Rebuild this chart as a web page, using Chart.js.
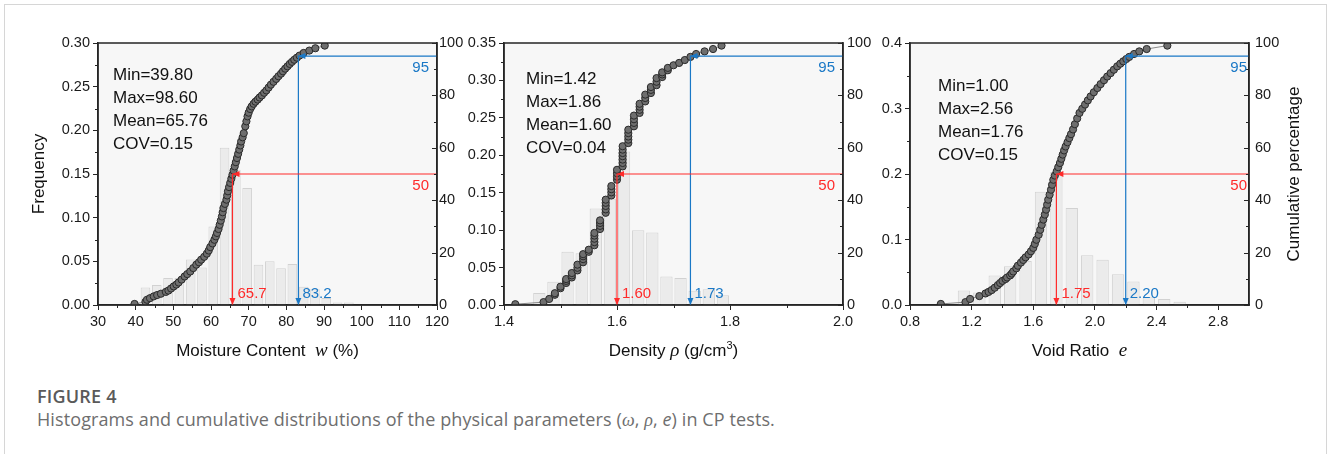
<!DOCTYPE html>
<html>
<head>
<meta charset="utf-8">
<script src="https://cdn.jsdelivr.net/npm/chart.js@4.4.1/dist/chart.umd.min.js"></script>
<style>
  body { margin:0; background:#fff; width:1328px; height:454px; overflow:hidden; position:relative; }
  .card { position:absolute; left:4px; top:4px; width:1323px; height:520px; border:1px solid #d6d6d6; box-sizing:border-box; }
  canvas.panel { position:absolute; left:0; top:0; }
  .cap-head { position:absolute; left:37px; top:384px; font:600 18px 'Open Sans', sans-serif; color:#5a5a5a; letter-spacing:0.2px; }
  .cap-text { position:absolute; left:37px; top:407px; font:18px 'Open Sans', sans-serif; color:#6e6e6e; letter-spacing:0.1px; }
</style>
</head>
<body>
<div class="card"></div>
<canvas id="pW" class="panel" width="1328" height="380"></canvas>
<canvas id="pRho" class="panel" width="1328" height="380"></canvas>
<canvas id="pE" class="panel" width="1328" height="380"></canvas>
<div class="cap-head">FIGURE 4</div>
<div class="cap-text">Histograms and cumulative distributions of the physical parameters (<i style="font-family:'Liberation Serif',serif">ω</i>, <i style="font-family:'Liberation Serif',serif">ρ</i>, <i>e</i>) in CP tests.</div>

<script>
// ---- shared ticks ----
const pctTicks = [0, 20, 40, 60, 80, 100];

// ---- moisture content w (%) ----
const wCenters = [39.6, 42.6, 45.6, 48.6, 51.6, 54.6, 57.6, 60.6, 63.6, 66.6, 69.6, 72.6, 75.6, 78.6, 81.6, 84.6, 87.6, 90.6, 93.6, 96.6];
const wFreq    = [0.002, 0.020, 0.023, 0.031, 0.031, 0.052, 0.043, 0.090, 0.180, 0.155, 0.134, 0.046, 0.050, 0.042, 0.047, 0.021, 0.018, 0.008, 0.003, 0.003];
const wCum = [
  [39.7,0.4],[42.6,1.2],[43.0,2.0],[43.8,2.6],[44.8,3.3],[45.7,3.8],[46.7,4.3],[48.0,5.0],[48.7,5.5],[49.4,6.3],
  [50.1,7.1],[50.8,7.8],[51.4,8.6],[52.2,9.7],[53.0,10.9],[53.7,11.8],[54.5,12.8],[55.3,14.1],[56.1,15.4],[56.8,16.3],
  [57.4,17.3],[58.2,18.4],[58.9,19.6],[59.4,20.8],[59.8,22.1],[60.4,23.5],[60.9,24.9],[61.3,26.2],[61.6,27.5],[62.0,29.0],
  [62.3,30.6],[62.6,32.2],[62.9,33.8],[63.1,35.4],[63.3,37.0],[63.7,38.6],[64.1,40.2],[64.3,41.8],[64.5,43.4],[64.8,45.0],
  [65.1,46.6],[65.4,48.2],[65.7,49.7],[66.0,51.3],[66.3,52.9],[66.6,54.5],[66.9,56.1],[67.2,57.7],[67.5,59.3],[67.8,60.9],
  [68.0,62.4],[68.4,64.0],[68.7,65.6],[69.1,68.2],[69.4,70.1],[69.7,72.0],[70.0,73.4],[70.4,74.8],[70.8,75.8],[71.3,76.8],
  [71.8,77.6],[72.4,78.4],[72.9,79.2],[73.5,80.0],[74.1,81.0],[74.7,81.9],[75.3,83.0],[75.9,84.1],[76.6,85.2],[77.3,86.3],
  [77.9,87.3],[78.6,88.3],[79.1,89.2],[79.7,90.2],[80.3,91.1],[80.9,92.0],[81.5,92.8],[82.1,93.6],[82.8,94.4],[83.5,95.2],
  [84.6,96.2],[86.1,97.1],[87.7,98.0],[90.2,99.0]
];
const wXTicks = [30, 40, 50, 60, 70, 80, 90, 100, 110, 120];
const wYTicks = [0, 0.05, 0.10, 0.15, 0.20, 0.25, 0.30];
const wStats  = ['Min=39.80', 'Max=98.60', 'Mean=65.76', 'COV=0.15'];
const wMarks  = [65.7, 83.2];   // value at 50 % and 95 %

// ---- density rho (g/cm3) ----
const rhoCenters = [1.4375, 1.4625, 1.4875, 1.5125, 1.5375, 1.5625, 1.5875, 1.6125, 1.6375, 1.6625, 1.6875, 1.7125, 1.7375, 1.7625, 1.7875];
const rhoFreq    = [0.002, 0.016, 0.031, 0.071, 0.069, 0.129, 0.142, 0.205, 0.100, 0.097, 0.038, 0.036, 0.019, 0.021, 0.013];
const rhoCum = [
  [1.42,0.3],[1.47,1.1],[1.48,2.3],[1.49,3.9],[1.49,4.5],[1.50,6.4],[1.50,7.0],[1.51,8.4],[1.51,9.2],[1.51,9.9],
  [1.52,10.5],[1.52,11.3],[1.52,12.2],[1.53,13.2],[1.53,14.2],[1.53,15.4],[1.54,16.3],[1.54,17.5],[1.54,18.6],[1.54,19.4],
  [1.55,20.3],[1.55,21.1],[1.56,22.8],[1.56,24.0],[1.56,25.3],[1.56,26.5],[1.56,27.5],[1.57,29.0],[1.57,30.2],[1.57,31.3],
  [1.57,32.3],[1.58,35.2],[1.58,36.5],[1.58,37.8],[1.58,39.0],[1.58,40.2],[1.59,41.8],[1.59,43.0],[1.59,44.2],[1.59,45.4],
  [1.60,47.8],[1.60,49.0],[1.60,50.3],[1.60,51.6],[1.61,52.9],[1.61,54.2],[1.61,55.5],[1.61,56.8],[1.61,58.0],[1.61,59.3],
  [1.61,60.6],[1.62,61.8],[1.62,63.1],[1.62,64.3],[1.62,65.6],[1.62,66.9],[1.63,68.2],[1.63,69.5],[1.63,70.9],[1.63,72.3],
  [1.64,73.3],[1.64,74.5],[1.64,75.7],[1.64,76.8],[1.65,77.7],[1.65,79.0],[1.65,80.3],[1.66,80.9],[1.66,82.1],[1.66,83.2],
  [1.67,83.9],[1.67,85.2],[1.67,86.6],[1.68,87.0],[1.68,88.0],[1.68,88.8],[1.69,89.6],[1.69,90.5],[1.70,91.5],[1.71,92.4],
  [1.72,93.5],[1.73,94.7],[1.74,95.8],[1.755,96.8],[1.77,97.7],[1.785,99.0]
];
const rhoXTicks = [1.4, 1.6, 1.8, 2.0];
const rhoYTicks = [0, 0.05, 0.10, 0.15, 0.20, 0.25, 0.30, 0.35];
const rhoStats  = ['Min=1.42', 'Max=1.86', 'Mean=1.60', 'COV=0.04'];
const rhoMarks  = [1.60, 1.73];

// ---- void ratio e ----
const eCenters = [1.15, 1.25, 1.35, 1.45, 1.55, 1.65, 1.75, 1.85, 1.95, 2.05, 2.15, 2.25, 2.35, 2.45, 2.55];
const eFreq    = [0.022, 0.019, 0.045, 0.059, 0.067, 0.173, 0.203, 0.148, 0.076, 0.069, 0.047, 0.036, 0.012, 0.009, 0.005];
const eCum = [
  [1.00,0.4],[1.16,1.1],[1.19,2.3],[1.25,3.4],[1.29,4.4],[1.31,5.0],[1.33,5.7],[1.35,6.6],[1.37,7.6],[1.385,8.4],
  [1.40,9.2],[1.42,9.9],[1.43,10.5],[1.45,11.3],[1.46,12.0],[1.47,12.8],[1.49,14.0],[1.50,15.0],[1.52,16.2],[1.535,17.2],
  [1.55,18.2],[1.57,19.3],[1.585,20.5],[1.60,21.8],[1.61,23.3],[1.62,24.9],[1.635,26.8],[1.645,28.7],[1.655,30.6],[1.665,32.6],
  [1.675,34.5],[1.683,36.4],[1.69,38.3],[1.697,40.2],[1.706,42.1],[1.715,44.0],[1.722,45.9],[1.73,47.8],[1.74,49.4],[1.752,51.0],
  [1.762,52.6],[1.773,54.2],[1.782,55.8],[1.791,57.4],[1.80,59.0],[1.81,60.5],[1.822,62.1],[1.834,63.7],[1.845,65.2],[1.858,67.0],
  [1.87,69.0],[1.885,71.2],[1.90,73.3],[1.918,74.9],[1.936,76.5],[1.954,78.1],[1.972,79.6],[1.993,81.2],[2.016,82.8],[2.037,84.3],
  [2.059,85.8],[2.08,87.2],[2.102,88.5],[2.123,89.8],[2.145,91.1],[2.165,92.1],[2.184,93.0],[2.204,93.9],[2.223,94.7],[2.254,95.8],
  [2.288,96.8],[2.336,97.7],[2.47,99.0]
];
const eXTicks = [0.8, 1.2, 1.6, 2.0, 2.4, 2.8];
const eYTicks = [0, 0.1, 0.2, 0.3, 0.4];
const eStats  = ['Min=1.00', 'Max=2.56', 'Mean=1.76', 'COV=0.15'];
const eMarks  = [1.75, 2.20];

// ---- styling ----
const INK = '#262626';
const RED = '#ff2a2a';
const BLUE = '#1a78c6';
const SANS = "'Liberation Sans', Arial, sans-serif";
const SERIF = "'Liberation Serif', 'Times New Roman', serif";
const W = 1328, H = 380, TOP = 43, BOTTOM = 305;

Chart.defaults.font.family = SANS;

const mids = arr => arr.slice(1).map((v, i) => (v + arr[i]) / 2);

function arrowHead(ctx, px, py, dir, color) {
  ctx.fillStyle = color;
  ctx.beginPath();
  if (dir === 'left') { ctx.moveTo(px, py); ctx.lineTo(px + 7, py - 3); ctx.lineTo(px + 7, py + 3); }
  else { ctx.moveTo(px, py); ctx.lineTo(px - 3, py - 7); ctx.lineTo(px + 3, py - 7); }
  ctx.closePath();
  ctx.fill();
}

function drawSegments(ctx, segs, cx, baseline) {
  let total = 0;
  segs.forEach(s => { ctx.font = s.font; s.w = ctx.measureText(s.text).width; total += s.w; });
  let x = cx - total / 2;
  ctx.textAlign = 'left';
  ctx.textBaseline = 'alphabetic';
  segs.forEach(s => { ctx.font = s.font; ctx.fillText(s.text, x, baseline + (s.dy || 0)); x += s.w; });
}

function makePanel(id, p) {
  const tickFont = { family: SANS, size: 14.5 };

  const decor = {
    id: 'decor_' + id,
    beforeDraw(chart) {
      const { ctx, chartArea: a } = chart;
      ctx.save();
      ctx.fillStyle = '#f7f7f7';
      ctx.fillRect(a.left, a.top, a.right - a.left, a.bottom - a.top);
      ctx.restore();
    },
    afterDraw(chart) {
      const { ctx, chartArea: a, scales: { x, y, y1 } } = chart;
      ctx.save();
      // frame
      ctx.strokeStyle = INK;
      ctx.lineWidth = 1.5;
      ctx.strokeRect(a.left, a.top, a.right - a.left, a.bottom - a.top);
      // minor ticks + inward ticks on the right axis
      ctx.lineWidth = 1;
      ctx.beginPath();
      mids(p.xTicks).forEach(v => { const px = Math.round(x.getPixelForValue(v)) + 0.5; ctx.moveTo(px, a.bottom); ctx.lineTo(px, a.bottom + 3); });
      mids(p.yTicks).forEach(v => { const py = Math.round(y.getPixelForValue(v)) + 0.5; ctx.moveTo(a.left, py); ctx.lineTo(a.left - 3, py); });
      pctTicks.forEach(v => { const py = Math.round(y1.getPixelForValue(v)) + 0.5; ctx.moveTo(a.right, py); ctx.lineTo(a.right - 5, py); });
      mids(pctTicks).forEach(v => { const py = Math.round(y1.getPixelForValue(v)) + 0.5; ctx.moveTo(a.right, py); ctx.lineTo(a.right - 3, py); });
      ctx.stroke();

      // arrow heads of the 50 % / 95 % guides
      const x50 = x.getPixelForValue(p.marks[0]), x95 = x.getPixelForValue(p.marks[1]);
      const y50 = y1.getPixelForValue(50), y95 = y1.getPixelForValue(95);
      arrowHead(ctx, x50, y50, 'left', RED);
      arrowHead(ctx, x50, a.bottom, 'down', RED);
      arrowHead(ctx, x95, y95, 'left', BLUE);
      arrowHead(ctx, x95, a.bottom, 'down', BLUE);

      // guide labels
      ctx.font = '15px ' + SANS;
      ctx.textBaseline = 'middle';
      ctx.textAlign = 'right';
      ctx.fillStyle = RED;  ctx.fillText('50', a.right - p.inset, y50 + 12);
      ctx.fillStyle = BLUE; ctx.fillText('95', a.right - p.inset, y95 + 12);
      ctx.textAlign = 'left';
      ctx.fillStyle = RED;  ctx.fillText(p.marks[0].toFixed(p.markDec), x50 + 5, a.bottom - 11);
      ctx.fillStyle = BLUE; ctx.fillText(p.marks[1].toFixed(p.markDec), x95 + 4, a.bottom - 11);

      // statistics box
      ctx.font = '17px ' + SANS;
      ctx.fillStyle = '#111';
      p.stats.forEach((s, i) => ctx.fillText(s, a.left + p.statX, a.top + p.statY + i * 23));

      // axis titles
      ctx.fillStyle = '#111';
      drawSegments(ctx, p.xTitle, (a.left + a.right) / 2, 356);
      ctx.font = '17px ' + SANS;
      ctx.textAlign = 'center';
      ctx.textBaseline = 'middle';
      if (p.yTitle) {
        ctx.save(); ctx.translate(a.left - 59, (a.top + a.bottom) / 2); ctx.rotate(-Math.PI / 2);
        ctx.fillText(p.yTitle, 0, 0); ctx.restore();
      }
      if (p.y1Title) {
        ctx.save(); ctx.translate(a.right + 45, (a.top + a.bottom) / 2); ctx.rotate(-Math.PI / 2);
        ctx.fillText(p.y1Title, 0, 0); ctx.restore();
      }
      ctx.restore();
    }
  };

  new Chart(document.getElementById(id), {
    type: 'bar',
    data: {
      datasets: [
        { type: 'line', yAxisID: 'y1', order: 0, borderColor: RED, borderWidth: 1.2, pointRadius: 0,
          data: [{ x: p.xMax, y: 50 }, { x: p.marks[0], y: 50 }, { x: p.marks[0], y: 0 }] },
        { type: 'line', yAxisID: 'y1', order: 0, borderColor: BLUE, borderWidth: 1.2, pointRadius: 0,
          data: [{ x: p.xMax, y: 95 }, { x: p.marks[1], y: 95 }, { x: p.marks[1], y: 0 }] },
        { type: 'line', yAxisID: 'y1', order: 1, showLine: true, borderColor: '#8a8a8a', borderWidth: 1,
          pointRadius: 3.6, pointBackgroundColor: '#6e6e6e', pointBorderColor: '#2a2a2a', pointBorderWidth: 1,
          data: p.cum.map(([cx, cy]) => ({ x: cx, y: cy })) },
        { type: 'bar', yAxisID: 'y', order: 2, backgroundColor: '#ebebeb', borderColor: '#d2d2d2', borderWidth: 1,
          barPercentage: p.barPct, categoryPercentage: 1,
          data: p.centers.map((cx, i) => ({ x: cx, y: p.freq[i] })) }
      ]
    },
    options: {
      responsive: false,
      animation: false,
      events: [],
      layout: { padding: { top: TOP, left: 0, right: 0, bottom: 0 } },
      plugins: { legend: { display: false }, tooltip: { enabled: false } },
      scales: {
        x: {
          type: 'linear', position: 'bottom', min: p.xMin, max: p.xMax, offset: false,
          afterBuildTicks: s => { s.ticks = p.xTicks.map(v => ({ value: v })); },
          afterFit: s => { s.height = H - BOTTOM; },
          ticks: { callback: v => v.toFixed(p.xDec), font: tickFont, color: '#1a1a1a', padding: 3, maxRotation: 0, autoSkip: false },
          grid: { offset: false, drawOnChartArea: false, tickLength: 5, color: INK },
          border: { color: INK, width: 1.5 }
        },
        y: {
          position: 'left', min: 0, max: p.yTicks[p.yTicks.length - 1],
          afterBuildTicks: s => { s.ticks = p.yTicks.map(v => ({ value: v })); },
          afterFit: s => { s.width = p.left; },
          ticks: { callback: v => v.toFixed(p.yDec), font: tickFont, color: '#1a1a1a', padding: 3 },
          grid: { drawOnChartArea: false, tickLength: 5, color: INK },
          border: { color: INK, width: 1.5 }
        },
        y1: {
          position: 'right', min: 0, max: 100,
          afterBuildTicks: s => { s.ticks = pctTicks.map(v => ({ value: v })); },
          afterFit: s => { s.width = W - p.right; },
          ticks: { callback: v => String(v), font: tickFont, color: '#1a1a1a', padding: p.rightPad },
          grid: { drawOnChartArea: false, drawTicks: false },
          border: { color: INK, width: 1.5 }
        }
      }
    },
    plugins: [decor]
  });
}

makePanel('pW', {
  centers: wCenters, freq: wFreq, cum: wCum, xTicks: wXTicks, yTicks: wYTicks, stats: wStats, marks: wMarks,
  xMin: 30, xMax: 120, xDec: 0, yDec: 2, markDec: 1,
  left: 98, right: 437, barPct: 0.85, rightPad: 2, inset: 8, statX: 15, statY: 32,
  yTitle: 'Frequency',
  xTitle: [
    { text: 'Moisture Content  ', font: '17px ' + SANS },
    { text: 'w', font: 'italic 19px ' + SERIF },
    { text: ' (%)', font: '17px ' + SANS }
  ]
});

makePanel('pRho', {
  centers: rhoCenters, freq: rhoFreq, cum: rhoCum, xTicks: rhoXTicks, yTicks: rhoYTicks, stats: rhoStats, marks: rhoMarks,
  xMin: 1.4, xMax: 2.0, xDec: 1, yDec: 2, markDec: 2,
  left: 504, right: 843, barPct: 0.87, rightPad: 4, inset: 8, statX: 22, statY: 36,
  xTitle: [
    { text: 'Density ', font: '17px ' + SANS },
    { text: 'ρ', font: 'italic 19px ' + SERIF },
    { text: ' (g/cm', font: '17px ' + SANS },
    { text: '3', font: '11px ' + SANS, dy: -7 },
    { text: ')', font: '17px ' + SANS }
  ]
});

makePanel('pE', {
  centers: eCenters, freq: eFreq, cum: eCum, xTicks: eXTicks, yTicks: eYTicks, stats: eStats, marks: eMarks,
  xMin: 0.8, xMax: 3.0, xDec: 1, yDec: 1, markDec: 2,
  left: 910, right: 1249, barPct: 0.8, rightPad: 6, inset: 2, statX: 28, statY: 43,
  y1Title: 'Cumulative percentage',
  xTitle: [
    { text: 'Void Ratio  ', font: '17px ' + SANS },
    { text: 'e', font: 'italic 19px ' + SERIF }
  ]
});
</script>
</body>
</html>
